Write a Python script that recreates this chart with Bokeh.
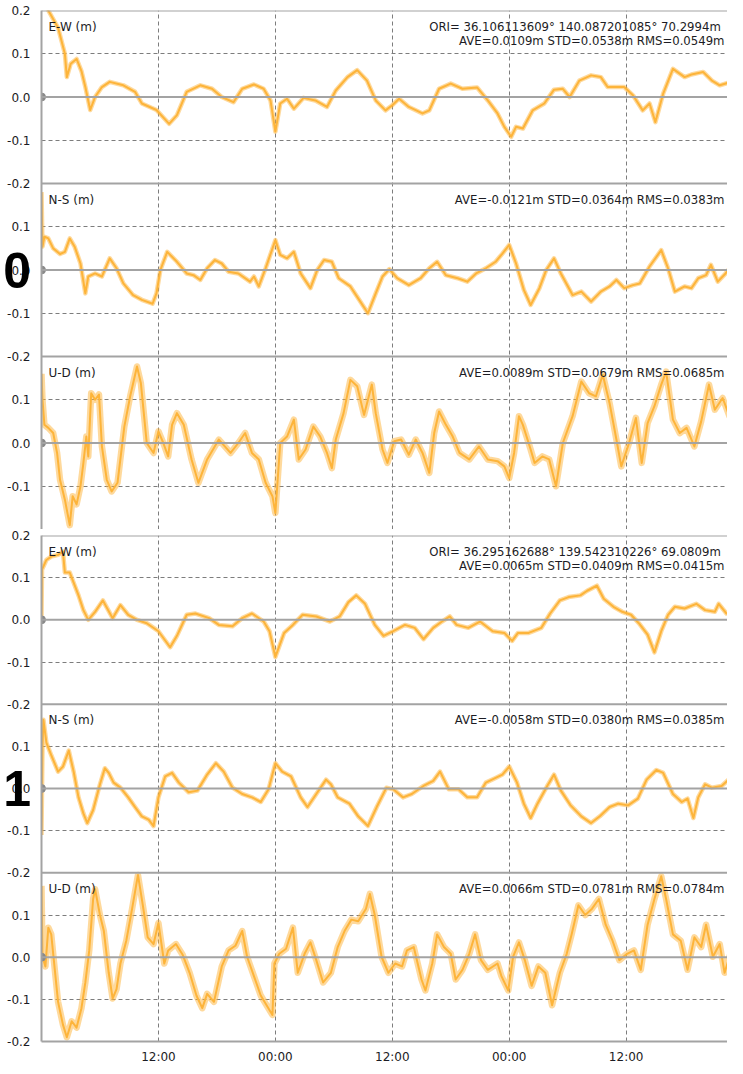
import json
from bokeh.plotting import figure
from bokeh.layouts import column
from bokeh.models import (Range1d, FixedTicker, CustomJSTickFormatter, Span, Label,
                          ColumnDataSource)
from bokeh.transform import dodge
from bokeh.embed import file_html
from bokeh.resources import INLINE

# ---------------- data (hours since 00:00 of day 1, metres) ----------------
ew0_h = [0, 0.7, 1.7, 2.4, 2.6, 3.0, 3.6, 4.1, 4.5, 5.0, 5.5, 6.2, 7.0, 8.4, 9.6, 10.3, 11.8, 13.1, 13.9, 14.9,
         16.3, 17.5, 18.5, 19.7, 20.6, 21.8, 22.8, 23.5, 24.0, 24.5, 25.2, 25.9, 26.9, 28.1, 29.3, 30.2, 31.4, 32.4,
         33.4, 34.3, 35.3, 36.0, 36.7, 37.7, 39.1, 39.8, 40.8, 42.0, 43.2, 44.7, 45.8, 46.8, 47.5, 48.2, 48.7, 49.4,
         50.4, 51.6, 52.6, 53.5, 54.2, 55.2, 56.4, 57.4, 58.1, 59.8, 60.7, 61.7, 62.4, 63.0, 63.8, 64.8, 66.0, 66.7,
         67.9, 68.8, 69.6, 70.8, 71.2]
ew0_v = [0.24, 0.20, 0.16, 0.10, 0.046, 0.077, 0.088, 0.060, 0.023, -0.030, 0.000, 0.023, 0.035, 0.027, 0.012,
         -0.015, -0.030, -0.062, -0.042, 0.012, 0.027, 0.019, 0.000, -0.012, 0.019, 0.029, 0.019, -0.008, -0.080,
         -0.015, -0.004, -0.027, -0.002, -0.008, -0.023, 0.015, 0.046, 0.062, 0.038, -0.008, -0.031, -0.019, -0.004,
         -0.023, -0.038, -0.031, 0.019, 0.031, 0.019, 0.022, -0.008, -0.038, -0.069, -0.092, -0.069, -0.073, -0.031,
         -0.015, 0.017, 0.019, 0.000, 0.038, 0.050, 0.046, 0.023, 0.023, 0.004, -0.031, -0.015, -0.058, 0.008, 0.065,
         0.046, 0.052, 0.058, 0.038, 0.027, 0.035, 0.029]

ns0_h = [0, 0.1, 0.3, 0.7, 1.2, 1.9, 2.4, 2.9, 3.4, 4.0, 4.5, 4.8, 5.5, 6.2, 7.0, 7.7, 8.4, 9.4, 10.3, 11.4,
         11.8, 12.2, 12.9, 13.9, 14.9, 15.6, 16.3, 17.0, 17.8, 18.5, 19.2, 20.2, 21.4, 21.8, 22.3, 23.0, 24.0, 24.5,
         25.2, 25.9, 26.6, 27.6, 28.3, 29.0, 29.8, 30.5, 31.7, 32.6, 33.5, 34.3, 35.0, 35.7, 36.5, 37.7, 38.9, 39.8,
         40.6, 41.5, 42.7, 43.7, 44.6, 45.6, 46.6, 47.3, 48.0, 48.7, 49.5, 50.2, 51.1, 51.8, 52.6, 53.3, 54.5, 55.4,
         56.4, 57.4, 58.3, 59.0, 59.8, 60.7, 61.4, 62.4, 63.6, 64.3, 65.0, 66.0, 66.7, 67.4, 68.2, 68.7, 69.4, 70.2,
         70.9, 71.2]
ns0_v = [0.18, 0.054, 0.077, 0.073, 0.050, 0.037, 0.042, 0.073, 0.054, 0.015, -0.054, -0.015, -0.008, -0.015,
         0.027, 0.004, -0.031, -0.058, -0.069, -0.078, -0.054, 0.000, 0.042, 0.019, -0.008, -0.012, -0.023, 0.004,
         0.023, 0.015, -0.004, -0.008, -0.027, -0.015, -0.038, 0.004, 0.069, 0.035, 0.027, 0.042, -0.008, -0.042,
         0.000, 0.023, 0.019, -0.019, -0.038, -0.069, -0.100, -0.054, -0.015, 0.002, -0.019, -0.035, -0.019, 0.004,
         0.019, -0.012, -0.019, -0.027, -0.008, 0.004, 0.019, 0.038, 0.058, 0.015, -0.046, -0.081, -0.042, 0.000,
         0.027, -0.008, -0.058, -0.050, -0.073, -0.050, -0.038, -0.023, -0.042, -0.035, -0.031, 0.008, 0.046, 0.004,
         -0.050, -0.038, -0.042, -0.019, -0.012, 0.012, -0.027, -0.008, 0.012, 0.004]

ud0_h = [0, 0.1, 0.3, 0.7, 1.2, 1.6, 1.9, 2.4, 2.9, 3.2, 3.6, 4.0, 4.3, 4.6, 4.8, 5.1, 5.5, 5.9, 6.2, 6.7,
         7.2, 7.8, 8.5, 9.1, 9.8, 10.2, 10.8, 11.5, 12.0, 12.5, 13.0, 13.4, 13.9, 14.6, 15.4, 16.1, 17.0, 18.2, 19.4,
         20.2, 20.9, 21.6, 22.3, 23.0, 23.7, 24.0, 24.5, 25.2, 25.9, 26.4, 27.1, 27.9, 28.6, 29.3, 29.8, 30.2, 31.0,
         31.7, 32.4, 33.1, 33.9, 34.3, 35.0, 35.5, 36.2, 36.9, 37.7, 38.4, 39.1, 39.8, 40.3, 40.8, 41.5, 42.2, 42.9,
         43.9, 44.9, 45.8, 46.8, 47.5, 48.0, 48.5, 49.0, 49.4, 50.2, 50.6, 51.4, 52.1, 52.8, 53.5, 54.5, 55.4, 56.2,
         56.9, 57.6, 58.3, 59.0, 59.5, 60.3, 61.0, 61.6, 62.2, 62.9, 63.6, 64.1, 64.8, 65.5, 66.2, 67.0, 67.7, 68.5,
         69.1, 69.9, 70.6, 71.2]
ud0_v = [0.160, 0.100, 0.042, 0.035, 0.023, -0.023, -0.085, -0.131, -0.190, -0.123, -0.142, -0.100, -0.046, 0.015,
         -0.031, 0.115, 0.100, 0.112, -0.008, -0.085, -0.112, -0.092, 0.038, 0.108, 0.177, 0.138, 0.000, -0.023,
         0.027, 0.000, -0.031, 0.042, 0.069, 0.042, -0.038, -0.092, -0.038, 0.008, -0.023, 0.000, 0.023, -0.023,
         -0.038, -0.092, -0.123, -0.162, 0.000, 0.015, 0.054, -0.038, -0.015, 0.038, 0.015, -0.023, -0.058, 0.008,
         0.069, 0.146, 0.131, 0.065, 0.135, 0.069, -0.015, -0.046, 0.004, 0.008, -0.027, 0.008, -0.023, -0.069,
         0.023, 0.073, 0.042, 0.015, -0.023, -0.038, -0.008, -0.038, -0.042, -0.054, -0.081, -0.023, 0.062, 0.042,
         -0.015, -0.046, -0.031, -0.038, -0.100, 0.000, 0.062, 0.142, 0.115, 0.108, 0.158, 0.092, 0.008, -0.054,
         0.000, 0.058, -0.046, 0.046, 0.085, 0.135, 0.165, 0.054, 0.023, 0.035, -0.008, 0.050, 0.135, 0.077, 0.104,
         0.062, 0.042]

ew1_h = [0, 0.05, 0.5, 1.0, 1.7, 2.2, 2.4, 2.9, 3.3, 3.8, 4.3, 4.8, 5.5, 6.3, 7.3, 8.1, 8.9, 9.8, 10.8, 12.0,
         13.2, 13.9, 14.9, 15.8, 17.2, 18.2, 19.6, 20.6, 21.6, 22.8, 23.4, 24.0, 24.9, 25.8, 26.8, 28.2, 29.6, 30.6,
         31.5, 32.3, 33.2, 34.2, 35.1, 36.1, 37.3, 38.3, 39.2, 40.2, 41.1, 41.9, 42.6, 43.8, 45.0, 46.3, 47.5, 48.3,
         48.9, 50.0, 51.3, 52.2, 53.2, 54.1, 55.3, 56.0, 57.0, 57.7, 58.7, 59.6, 60.5, 61.3, 62.2, 62.9, 63.6, 64.3,
         65.0, 66.0, 67.2, 68.1, 69.1, 69.5, 70.3, 71.1]
ew1_v = [0.000, 0.119, 0.142, 0.150, 0.154, 0.162, 0.112, 0.112, 0.088, 0.058, 0.023, 0.000, 0.019, 0.046, 0.004,
         0.035, 0.012, 0.000, -0.008, -0.027, -0.065, -0.038, 0.012, 0.015, 0.004, -0.012, -0.015, 0.004, 0.015,
         -0.004, -0.027, -0.088, -0.031, -0.012, 0.012, 0.008, -0.004, 0.008, 0.042, 0.058, 0.038, -0.012, -0.038,
         -0.027, -0.012, -0.019, -0.046, -0.019, -0.004, 0.008, -0.012, -0.019, -0.004, -0.027, -0.031, -0.050,
         -0.031, -0.031, -0.019, 0.015, 0.046, 0.054, 0.058, 0.069, 0.081, 0.050, 0.031, 0.019, 0.012, -0.008,
         -0.035, -0.077, -0.027, 0.012, 0.031, 0.027, 0.038, 0.023, 0.019, 0.038, 0.015, 0.019]

ns1_h = [0, 0.1, 0.2, 0.5, 1.0, 1.7, 2.2, 2.8, 3.3, 3.8, 4.3, 4.7, 5.3, 6.0, 6.5, 6.9, 7.4, 8.1, 8.9, 9.6,
         10.3, 11.0, 11.5, 12.0, 12.7, 13.4, 14.1, 15.1, 16.0, 17.0, 17.9, 18.7, 19.6, 20.6, 21.6, 22.5, 23.3, 24.0,
         24.7, 25.6, 26.6, 27.3, 28.2, 29.2, 29.7, 30.4, 31.6, 32.5, 33.5, 34.4, 35.4, 36.1, 37.1, 38.0, 39.2, 40.2,
         40.9, 41.8, 42.8, 43.7, 44.7, 45.6, 46.6, 47.3, 48.0, 48.8, 49.5, 50.2, 50.9, 51.9, 52.6, 53.3, 54.3, 55.4,
         56.4, 57.3, 58.3, 59.2, 60.2, 61.2, 62.1, 63.1, 63.8, 64.8, 65.7, 66.3, 66.9, 67.4, 68.1, 68.8, 69.8, 70.7,
         71.1]
ns1_v = [-0.110, 0.100, 0.163, 0.109, 0.079, 0.040, 0.052, 0.090, 0.040, -0.021, -0.059, -0.082, -0.051, 0.010,
         0.048, 0.037, 0.014, 0.002, -0.021, -0.044, -0.066, -0.074, -0.089, -0.021, 0.029, 0.037, 0.014, -0.009,
         -0.005, 0.033, 0.060, 0.040, 0.002, -0.013, -0.021, -0.032, -0.002, 0.060, 0.040, 0.029, -0.021, -0.044,
         -0.013, 0.021, 0.010, -0.021, -0.036, -0.066, -0.089, -0.044, 0.002, -0.002, -0.021, -0.013, 0.006, 0.018,
         0.040, -0.002, -0.002, -0.021, -0.021, 0.014, 0.025, 0.033, 0.052, 0.014, -0.036, -0.070, -0.036, 0.006,
         0.033, -0.005, -0.040, -0.066, -0.082, -0.066, -0.044, -0.036, -0.040, -0.024, 0.021, 0.044, 0.037, -0.013,
         -0.032, -0.024, -0.070, -0.021, 0.010, 0.002, 0.006, 0.025, 0.014]

ud1_h = [0, 0.1, 0.4, 0.7, 1.0, 1.3, 1.7, 2.2, 2.6, 3.1, 3.6, 4.1, 4.5, 4.9, 5.3, 5.5, 6.0, 6.4, 6.9, 7.3,
         7.7, 8.1, 8.7, 9.3, 9.9, 10.4, 10.9, 11.5, 12.0, 12.6, 13.0, 13.8, 14.5, 15.2, 15.9, 16.5, 17.0, 17.7, 18.5,
         19.2, 19.9, 20.6, 21.1, 21.8, 22.5, 23.1, 23.7, 23.9, 24.4, 25.1, 25.8, 26.3, 27.0, 27.6, 28.2, 28.9, 29.7,
         30.4, 31.1, 31.8, 32.5, 33.3, 33.7, 34.2, 34.9, 35.6, 36.3, 37.0, 37.5, 38.2, 39.0, 39.4, 40.1, 40.6, 41.3,
         42.0, 42.5, 43.2, 43.9, 44.5, 45.1, 45.8, 46.8, 47.2, 47.9, 48.4, 49.0, 49.6, 50.3, 51.0, 51.7, 52.4, 53.2,
         53.9, 54.4, 55.1, 55.8, 56.5, 57.2, 57.9, 58.6, 59.3, 60.1, 60.8, 61.5, 62.2, 62.9, 63.6, 64.1, 64.8, 65.6,
         66.3, 67.0, 67.7, 68.2, 68.9, 69.6, 70.1, 70.7]
ud1_v = [0.169, 0.001, -0.022, 0.070, 0.054, -0.015, -0.106, -0.160, -0.190, -0.152, -0.167, -0.121, -0.060, 0.016,
         0.138, 0.161, 0.100, 0.062, -0.037, -0.098, -0.076, -0.015, 0.039, 0.115, 0.195, 0.123, 0.047, 0.031,
         0.081, -0.015, 0.016, 0.031, 0.005, -0.037, -0.091, -0.121, -0.087, -0.106, -0.022, 0.016, 0.027, 0.062,
         0.001, -0.045, -0.091, -0.114, -0.137, -0.015, 0.008, 0.020, 0.070, -0.037, 0.008, 0.035, -0.007, -0.060,
         -0.037, 0.024, 0.062, 0.089, 0.085, 0.115, 0.150, 0.100, 0.001, -0.037, -0.015, -0.022, 0.016, 0.024,
         -0.053, -0.079, -0.015, 0.054, 0.024, 0.008, -0.053, -0.030, 0.008, 0.054, -0.007, -0.030, -0.015, -0.045,
         -0.079, 0.001, 0.035, -0.007, -0.068, -0.022, -0.037, -0.114, -0.037, 0.008, 0.054, 0.123, 0.100, 0.115,
         0.138, 0.077, 0.039, -0.007, 0.008, 0.016, -0.030, 0.077, 0.138, 0.192, 0.138, 0.054, 0.039, -0.030, 0.047,
         0.024, 0.077, 0.001, 0.031, -0.037, 0.008]

origin_h = [0.0]
origin_v = [0.0]

site_names = ["0", "1"]
components = ["E-W (m)", "N-S (m)", "U-D (m)"]
ori_texts = ["ORI= 36.106113609°  140.087201085° 70.2994m",
             "ORI= 36.295162688°  139.542310226° 69.0809m"]
stat_texts = [["AVE=0.0109m STD=0.0538m RMS=0.0549m",
               "AVE=-0.0121m STD=0.0364m RMS=0.0383m",
               "AVE=0.0089m STD=0.0679m RMS=0.0685m"],
              ["AVE=0.0065m STD=0.0409m RMS=0.0415m",
               "AVE=-0.0058m STD=0.0380m RMS=0.0385m",
               "AVE=0.0066m STD=0.0781m RMS=0.0784m"]]
hour_ticks = [12, 24, 36, 48, 60]

site_series = [[(ew0_h, ew0_v), (ns0_h, ns0_v), (ud0_h, ud0_v)],
               [(ew1_h, ew1_v), (ns1_h, ns1_v), (ud1_h, ud1_v)]]

# ---------------- layout / style ----------------
OFFS = [0.8, 0.4, 0.0]   # vertical stacking of the three component panels
HALF = 0.2
X_END = 70.4
ORANGE = "#FDB43A"
GRIDC = "#7d7d7d"
FRAMEC = "#a3a3a3"
TXT = "#1c1c24"
FONT = "DejaVu Sans"

Y_CODE = """
const offs = %s;
let d = null;
for (const o of offs) { const e = tick - o; if (e >= -0.2001 && e < 0.1999) { d = e; break; } }
if (d === null) { for (const o of offs) { const e = tick - o; if (Math.abs(e) <= 0.2001) { d = e; break; } } }
if (d === null) return "";
let v = Math.round(d * 10) / 10;
if (Math.abs(v) < 1e-9) v = 0;
return v.toFixed(1);
""" % json.dumps(OFFS)

X_CODE = """
const h = Math.round(tick) % 24;
return (h < 10 ? "0" : "") + h + ":00";
"""


def make_site(k, bottom, border_t, frame_h, border_b):
    p = figure(width=727, height=border_t + frame_h + border_b, output_backend="svg", toolbar_location=None,
               x_range=Range1d(0, X_END), y_range=Range1d(-HALF, OFFS[0] + HALF),
               min_border_left=32, min_border_right=0, min_border_top=border_t,
               min_border_bottom=border_b)
    p.outline_line_color = None
    p.background_fill_color = "white"
    p.border_fill_color = "white"

    p.xgrid.ticker = FixedTicker(ticks=hour_ticks)
    p.xgrid.grid_line_color = GRIDC
    p.xgrid.grid_line_dash = "4 3"
    p.xgrid.grid_line_width = 1

    dashed = []
    for o in OFFS:
        dashed += [o - 0.1, o + 0.1]
    if not bottom:
        dashed.append(OFFS[-1] - HALF)
    p.ygrid.ticker = FixedTicker(ticks=dashed)
    p.ygrid.grid_line_color = GRIDC
    p.ygrid.grid_line_dash = "4 3"
    p.ygrid.grid_line_width = 1

    label_ticks = [OFFS[0] + HALF]
    for i, o in enumerate(OFFS):
        label_ticks += [o + 0.1, o, o - 0.1]
        if i < len(OFFS) - 1 or bottom:
            label_ticks.append(o - HALF)
    p.yaxis.ticker = FixedTicker(ticks=label_ticks)
    p.yaxis.formatter = CustomJSTickFormatter(code=Y_CODE)
    p.yaxis.axis_label = site_names[k]
    p.yaxis.axis_label_orientation = "horizontal"
    p.yaxis.axis_label_text_font = "Liberation Sans"
    p.yaxis.axis_label_text_font_size = "50px"
    p.yaxis.axis_label_text_font_style = "bold"
    p.yaxis.axis_label_text_color = "black"
    p.yaxis.axis_label_standoff = -27

    p.xaxis.ticker = FixedTicker(ticks=hour_ticks)
    p.xaxis.formatter = CustomJSTickFormatter(code=X_CODE)
    if not bottom:
        p.xaxis.visible = False

    for ax in (p.xaxis[0], p.yaxis[0]):
        ax.major_tick_line_color = None
        ax.minor_tick_line_color = None
        ax.axis_line_color = FRAMEC
        ax.axis_line_width = 2
        ax.major_label_text_font = FONT
        ax.major_label_text_font_size = "12px"
        ax.major_label_text_color = TXT
    p.yaxis.major_label_standoff = 5
    p.xaxis.major_label_standoff = 2

    for o in OFFS:
        p.add_layout(Span(location=o, dimension="width", line_color=FRAMEC, line_width=2))
        p.add_layout(Span(location=o + HALF, dimension="width", line_color=FRAMEC, line_width=2))

    for i, (o, (hh, vv)) in enumerate(zip(OFFS, site_series[k])):
        src = ColumnDataSource(dict(h=hh, v=vv))
        fuzz = 6.5 if i == 2 else 4.5
        p.line(x="h", y=dodge("v", o), source=src, line_color=ORANGE, line_width=fuzz,
               line_alpha=0.5, line_join="round")
        p.line(x="h", y=dodge("v", o), source=src, line_color=ORANGE, line_width=2.0,
               line_join="round")
        osrc = ColumnDataSource(dict(h=origin_h, v=origin_v))
        p.scatter(x="h", y=dodge("v", o), source=osrc, size=8, color="#8a8a8a")

        top = o + HALF
        p.add_layout(Label(x=0, y=top, x_offset=7, y_offset=-9, text=components[i],
                           text_baseline="top", text_align="left", text_font=FONT,
                           text_font_size="12px", text_color=TXT))
        if i == 0:
            p.add_layout(Label(x=X_END, y=top, x_offset=-3, y_offset=-9, text=ori_texts[k],
                               text_baseline="top", text_align="right", text_font=FONT,
                               text_font_size="11.7px", text_color=TXT))
            p.add_layout(Label(x=X_END, y=top, x_offset=-3, y_offset=-23, text=stat_texts[k][i],
                               text_baseline="top", text_align="right", text_font=FONT,
                               text_font_size="11.7px", text_color=TXT))
        else:
            p.add_layout(Label(x=X_END, y=top, x_offset=-3, y_offset=-9, text=stat_texts[k][i],
                               text_baseline="top", text_align="right", text_font=FONT,
                               text_font_size="11.7px", text_color=TXT))
    return p


site0 = make_site(0, False, 10, 519, 0)
site1 = make_site(1, True, 6, 517, 14)
layout = column(site0, site1, spacing=0)
open("out.html", "w").write(file_html(layout, INLINE))
